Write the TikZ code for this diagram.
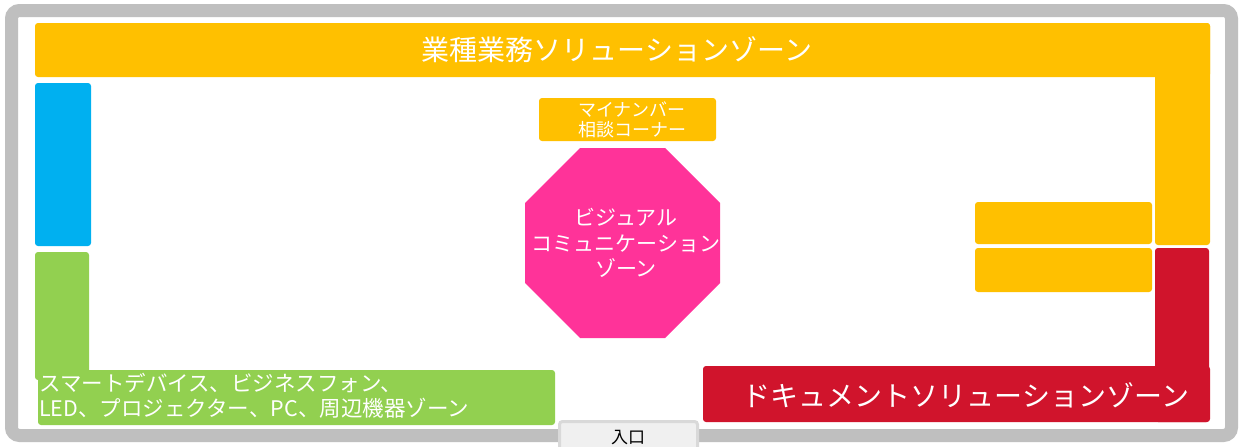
\documentclass[tikz,border=0pt]{standalone}
\usepackage{fontspec}
\setmainfont{Noto Sans CJK JP}
\definecolor{frameg}{HTML}{BFBFBF}
\definecolor{yellowz}{HTML}{FFC000}
\definecolor{redz}{HTML}{D0142C}
\definecolor{bluez}{HTML}{00B0F0}
\definecolor{greenz}{HTML}{92D050}
\definecolor{pinkz}{HTML}{FF3399}
\definecolor{doorfill}{HTML}{F0F0F0}
\definecolor{doordraw}{HTML}{D9D9D9}
\tikzset{
  zone/.style={rounded corners=3pt},
  ztext/.style={text=white, inner sep=0pt, align=center},
}
\begin{document}
\begin{tikzpicture}[x=1pt,y=-1pt]
\useasboundingbox (0,0) rectangle (1243,447);
\clip (0,0) rectangle (1243,447);
\fill[white] (0,0) rectangle (1243,447);
% outer frame
\draw[frameg, line width=13pt, rounded corners=8pt] (11.5,10.5) rectangle (1231.5,435.5);
% top yellow zone (L-shape)
\fill[yellowz, zone] (35,23) rectangle (1210,77);
\fill[yellowz, zone] (1155,23) rectangle (1210,245);
\node[ztext, font=\fontsize{28}{32}\selectfont] (top) at (617,50) {業種業務ソリューションゾーン};
% right small yellow boxes
\fill[yellowz, zone] (975,202) rectangle (1152,244);
\fill[yellowz, zone] (975,248) rectangle (1152,292);
% red zone (L-shape)
\fill[redz, zone] (1155,248) rectangle (1209,422);
\fill[redz, zone] (703,366) rectangle (1210,422);
\node[ztext, font=\fontsize{28}{32}\selectfont] (doc) at (966,395) {ドキュメントソリューションゾーン};
% blue zone
\fill[bluez, zone] (35,83) rectangle (91,246);
% green zone (L-shape)
\fill[greenz, zone] (35,252) rectangle (89,380);
\fill[greenz, zone] (38,370) rectangle (555,425);
\node[ztext, align=left, anchor=west, font=\fontsize{21.5}{25}\selectfont] (dev) at (39,396) {スマートデバイス、ビジネスフォン、\\LED、プロジェクター、PC、周辺機器ゾーン};
% my number corner
\fill[yellowz, zone] (539,98) rectangle (716,141);
\node[ztext, font=\fontsize{18}{20}\selectfont] (mynum) at (632,119.5) {マイナンバー\\相談コーナー};
% octagon
\fill[pinkz] (580,148) -- (665,148) -- (720,203) -- (720,283) -- (665,338) -- (580,338) -- (525,283) -- (525,203) -- cycle;
\node[ztext, font=\fontsize{21}{25.5}\selectfont] (visual) at (626,243) {ビジュアル\\コミュニケーション\\ゾーン};
% entrance
\draw[doordraw, fill=doorfill, line width=3pt, rounded corners=3pt] (559.5,421.5) rectangle (697.5,460);
\node[inner sep=0pt, font=\fontsize{17}{20}\selectfont] (door) at (628,438) {入口};
\end{tikzpicture}
\end{document}
